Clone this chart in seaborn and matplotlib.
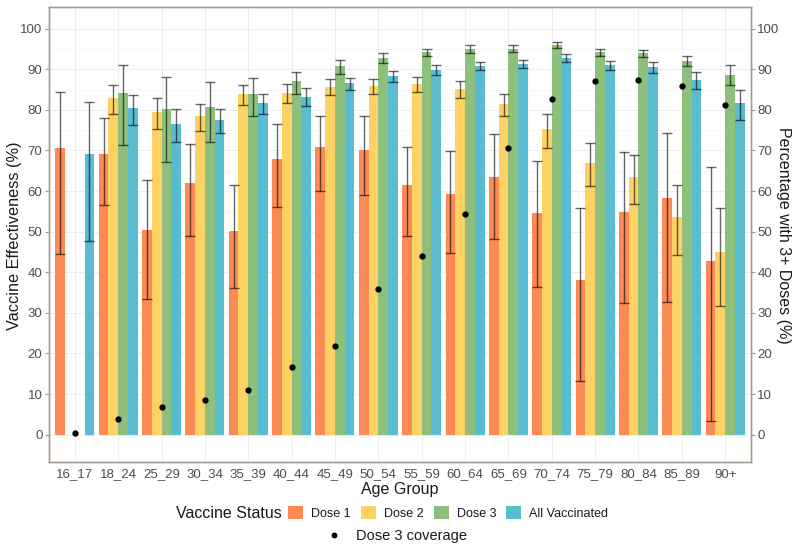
import numpy as np
import pandas as pd
import matplotlib
matplotlib.use("Agg")
import matplotlib.pyplot as plt
import seaborn as sns
from matplotlib.lines import Line2D
from matplotlib.patches import Patch

age_groups = ["16_17", "18_24", "25_29", "30_34", "35_39", "40_44", "45_49", "50_54",
              "55_59", "60_64", "65_69", "70_74", "75_79", "80_84", "85_89", "90+"]
statuses = ["Dose 1", "Dose 2", "Dose 3", "All Vaccinated"]

dose1 = [70.5, 69.1, 50.3, 61.9, 50.2, 67.9, 70.8, 70.1, 61.4, 59.3, 63.4, 54.5, 38.0, 54.9, 58.3, 42.7]
dose1_lo = [44.6, 56.6, 33.4, 48.9, 36.0, 56.1, 60.1, 59.0, 49.0, 44.8, 48.1, 36.3, 13.2, 32.4, 32.6, 3.4]
dose1_hi = [84.4, 77.9, 62.8, 71.5, 61.4, 76.5, 78.5, 78.4, 70.8, 69.8, 74.1, 67.4, 55.8, 69.7, 74.2, 66.0]

dose2 = [np.nan, 83.0, 79.4, 78.5, 84.0, 84.2, 85.7, 85.9, 86.3, 85.2, 81.5, 75.2, 67.0, 63.5, 53.5, 45.1]
dose2_lo = [np.nan, 78.9, 75.2, 74.9, 81.3, 81.7, 83.6, 84.0, 84.5, 82.9, 78.5, 70.6, 61.3, 56.8, 44.2, 31.7]
dose2_hi = [np.nan, 86.2, 82.8, 81.5, 86.2, 86.3, 87.5, 87.6, 88.1, 87.1, 83.8, 79.0, 71.8, 69.0, 61.5, 55.9]

dose3 = [np.nan, 84.1, 80.1, 80.8, 84.0, 87.0, 90.9, 92.8, 94.2, 95.0, 95.0, 96.0, 94.2, 93.9, 92.1, 88.7]
dose3_lo = [np.nan, 71.3, 67.1, 72.1, 78.5, 84.0, 88.8, 91.5, 93.2, 94.1, 94.2, 95.2, 93.3, 93.1, 90.7, 86.1]
dose3_hi = [np.nan, 91.1, 88.0, 86.9, 87.9, 89.4, 92.4, 94.0, 95.0, 96.0, 96.0, 96.7, 95.0, 94.7, 93.3, 91.0]

allvac = [69.2, 80.4, 76.5, 77.5, 81.6, 83.2, 86.6, 88.4, 89.8, 90.8, 91.4, 92.8, 91.0, 90.6, 87.4, 81.7]
allvac_lo = [47.7, 76.2, 72.1, 74.3, 79.0, 80.9, 84.9, 86.9, 88.7, 89.7, 90.4, 91.8, 89.9, 89.2, 85.1, 77.6]
allvac_hi = [82.0, 83.7, 80.1, 80.3, 84.0, 85.4, 87.9, 89.6, 91.0, 91.9, 92.4, 93.8, 92.1, 91.8, 89.3, 85.0]

coverage = [0.4, 3.9, 6.9, 8.5, 10.9, 16.6, 21.9, 35.9, 43.9, 54.4, 70.7, 82.6, 87.0, 87.3, 85.8, 81.1]

colors = ["#FC8A55", "#FDD163", "#8DC07C", "#5ABCD0"]
border = "#A89A8E"
txt = "#4D4D4D"
dark = "#1A1A1A"

rows = []
series = [(dose1, dose1_lo, dose1_hi), (dose2, dose2_lo, dose2_hi),
          (dose3, dose3_lo, dose3_hi), (allvac, allvac_lo, allvac_hi)]
for s, (v, lo, hi) in zip(statuses, series):
    for g, vv, l, h in zip(age_groups, v, lo, hi):
        if not np.isnan(vv):
            rows.append({"age": g, "status": s, "ve": vv, "lo": l, "hi": h})
df = pd.DataFrame(rows)

sns.set_theme(style="white")
plt.rcParams["font.family"] = ["Liberation Sans", "DejaVu Sans"]

fig = plt.figure(figsize=(8, 5.49), dpi=100)
ax = fig.add_axes([0.061, 0.158, 0.878, 0.829])

width = 0.9
sns.barplot(data=df, x="age", y="ve", hue="status", order=age_groups, hue_order=statuses,
            palette=colors, width=width, errorbar=None, linewidth=0, saturation=1,
            legend=False, ax=ax, zorder=2)

nh = len(statuses)
bw = width / nh
for k, s in enumerate(statuses):
    sub = df[df.status == s]
    xs = np.array([age_groups.index(a) for a in sub.age]) + (k - (nh - 1) / 2) * bw
    ax.errorbar(xs, sub.ve, yerr=[sub.ve - sub.lo, sub.hi - sub.ve], fmt="none",
                ecolor="black", alpha=0.6, elinewidth=1.0, capsize=3.5, capthick=1.0, zorder=3)

ax.set_ylim(-6.8, 105.3)
ax.set_xlim(-0.6, len(age_groups) - 0.4)
ax.set_yticks(np.arange(0, 101, 10))
ax.set_yticks(np.arange(5, 101, 10), minor=True)
ax.grid(True, which="major", color="#EBEBEB", linewidth=0.6, zorder=0)
ax.grid(True, which="minor", axis="y", color="#F3F3F3", linewidth=0.4, zorder=0)
ax.set_axisbelow(True)

ax2 = ax.twinx()
ax2.set_ylim(ax.get_ylim())
ax2.set_yticks(np.arange(0, 101, 10))
ax2.plot(np.arange(len(age_groups)), coverage, linestyle="none", marker="o",
         color="black", markersize=3.5, zorder=5)

for a in (ax, ax2):
    for sp in a.spines.values():
        sp.set_color(border)
        sp.set_linewidth(1.0)
    a.tick_params(axis="both", which="major", length=3, width=0.8, color=border,
                  labelsize=9.5, labelcolor=txt, pad=1.5)
    a.tick_params(which="minor", length=0)

ax.set_xlabel("Age Group", fontsize=11.5, color=dark, labelpad=1)
ax.set_ylabel("")
ax2.set_ylabel("")
fig.text(15 / 800, 1 - 236 / 549, "Vaccine Effectiveness (%)", rotation=90,
         ha="center", va="center", fontsize=11.7, color=dark)
fig.text(783 / 800, 1 - 235 / 549, "Percentage with 3+ Doses (%)", rotation=270,
         ha="center", va="center", fontsize=11.5, color=dark)

# legends
fig.text(176 / 800, 1 - 513 / 549, "Vaccine Status", fontsize=11.5, color=dark, va="center")
handles = [Patch(facecolor=c, edgecolor="none") for c in colors]
leg1 = fig.legend(handles, statuses, loc="center left", bbox_to_anchor=(288 / 800, 1 - 513 / 549),
                  ncol=4, frameon=False, fontsize=9, handlelength=1.2, handleheight=1.2,
                  columnspacing=0.8, handletextpad=0.65, borderaxespad=0, borderpad=0)
for t in leg1.get_texts():
    t.set_color(dark)
dot = Line2D([], [], linestyle="none", marker="o", color="black", markersize=3.2)
leg2 = fig.legend([dot], ["Dose 3 coverage"], loc="center left",
                  bbox_to_anchor=(325 / 800, 1 - 536 / 549), frameon=False, fontsize=10.5,
                  handlelength=1.2, handletextpad=0.9, borderaxespad=0, borderpad=0)
for t in leg2.get_texts():
    t.set_color(dark)

fig.savefig("out.png", dpi=100, facecolor="white")
